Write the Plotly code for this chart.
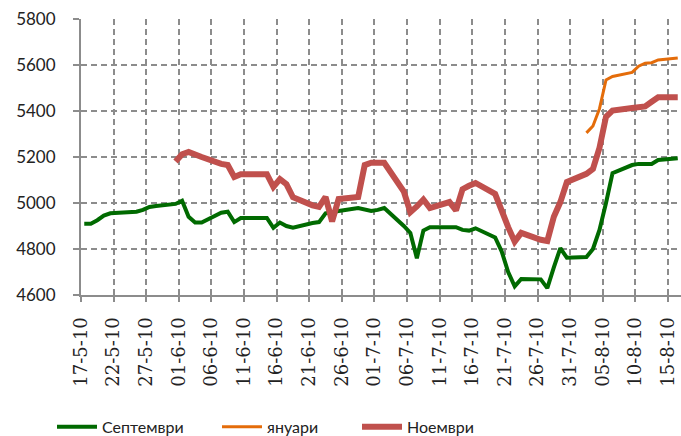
import plotly.graph_objects as go

sep_dates = ["2010-05-17","2010-05-18","2010-05-19","2010-05-20","2010-05-21",
             "2010-05-24","2010-05-25","2010-05-26","2010-05-27","2010-05-28",
             "2010-05-31","2010-06-01","2010-06-02","2010-06-03","2010-06-04",
             "2010-06-07","2010-06-08","2010-06-09","2010-06-10","2010-06-11",
             "2010-06-14","2010-06-15","2010-06-16","2010-06-17","2010-06-18",
             "2010-06-21","2010-06-22","2010-06-23","2010-06-24","2010-06-25",
             "2010-06-28","2010-06-29","2010-06-30","2010-07-01","2010-07-02",
             "2010-07-05","2010-07-06","2010-07-07","2010-07-08","2010-07-09",
             "2010-07-12","2010-07-13","2010-07-14","2010-07-15","2010-07-16",
             "2010-07-19","2010-07-20","2010-07-21","2010-07-22","2010-07-23",
             "2010-07-26","2010-07-27","2010-07-28","2010-07-29","2010-07-30",
             "2010-08-02","2010-08-03","2010-08-04","2010-08-05","2010-08-06",
             "2010-08-09","2010-08-10","2010-08-11","2010-08-12","2010-08-13",
             "2010-08-16"]
sep_values = [4910, 4910, 4925, 4945, 4955,
              4960, 4962, 4970, 4983, 4987,
              4996, 5010, 4940, 4915, 4915,
              4958, 4962, 4917, 4935, 4935,
              4935, 4892, 4915, 4900, 4893,
              4913, 4917, 4955, 4962, 4965,
              4978, 4972, 4965, 4970, 4978,
              4900, 4870, 4760, 4880, 4895,
              4895, 4895, 4883, 4880, 4890,
              4850, 4790, 4700, 4638, 4670,
              4668, 4630, 4720, 4804, 4762,
              4765, 4800, 4883, 5000, 5130,
              5165, 5170, 5170, 5170, 5187,
              5195]

nov_dates = sep_dates[10:]
nov_values = [5180, 5212, 5222, 5210, 5200,
              5170, 5165, 5113, 5125, 5125,
              5125, 5070, 5104, 5082, 5025,
              4990, 4983, 5026, 4920, 5017,
              5026, 5165, 5175, 5175, 5175,
              5050, 4960, 4985, 5015, 4978,
              5004, 4968, 5060, 5075, 5087,
              5040, 4960, 4895, 4832, 4870,
              4840, 4835, 4940, 5004, 5091,
              5127, 5148, 5240, 5375, 5402,
              5413, 5417, 5420, 5440, 5460,
              5460]

jan_dates = sep_dates[55:]
jan_values = [5305, 5335, 5410, 5535, 5550,
              5568, 5595, 5608, 5610, 5622,
              5630]

tick_labels = ["17-5-10","22-5-10","27-5-10","01-6-10","06-6-10","11-6-10",
               "16-6-10","21-6-10","26-6-10","01-7-10","06-7-10","11-7-10",
               "16-7-10","21-7-10","26-7-10","31-7-10","05-8-10","10-8-10",
               "15-8-10"]
tick_positions = ["2010-05-16 12:00","2010-05-21 12:00","2010-05-26 12:00",
                  "2010-05-31 12:00","2010-06-05 12:00","2010-06-10 12:00",
                  "2010-06-15 12:00","2010-06-20 12:00","2010-06-25 12:00",
                  "2010-06-30 12:00","2010-07-05 12:00","2010-07-10 12:00",
                  "2010-07-15 12:00","2010-07-20 12:00","2010-07-25 12:00",
                  "2010-07-30 12:00","2010-08-04 12:00","2010-08-09 12:00",
                  "2010-08-14 12:00"]

GREEN = "#006a00"
ORANGE = "#e46c0a"
RED = "#c0504d"

fig = go.Figure()
fig.add_trace(go.Scatter(x=sep_dates, y=sep_values, mode="lines", name="Септември",
                         line=dict(color=GREEN, width=4), legend="legend"))
fig.add_trace(go.Scatter(x=jan_dates, y=jan_values, mode="lines", name="януари",
                         line=dict(color=ORANGE, width=3), legend="legend2"))
fig.add_trace(go.Scatter(x=nov_dates, y=nov_values, mode="lines", name="Ноември",
                         line=dict(color=RED, width=6), legend="legend3"))

legend_common = dict(orientation="h", bgcolor="rgba(0,0,0,0)", borderwidth=0,
                     font=dict(family="Lato", size=16, color="#222"),
                     itemwidth=40, yanchor="middle", y=-0.478, xanchor="left")

fig.update_layout(
    width=681, height=436,
    margin=dict(l=81, r=0, t=19, b=141, autoexpand=False),
    plot_bgcolor="white", paper_bgcolor="white",
    showlegend=True,
    legend=dict(**legend_common, x=(52 - 81) / 600),
    legend2=dict(**legend_common, x=(217 - 81) / 600),
    legend3=dict(**legend_common, x=(357 - 81) / 600),
    xaxis=dict(
        type="date", automargin=False,
        range=["2010-05-16 12:00", "2010-08-16 12:00"],
        tickmode="array", tickvals=tick_positions, ticktext=tick_labels,
        tickangle=-90,
        tickfont=dict(family="DejaVu Serif", size=18, color="#222"),
        showgrid=True, gridcolor="#8c8c8c", gridwidth=1.5, griddash="6px,4px",
        showline=True, linecolor="#8c8c8c", linewidth=2,
        ticks="outside", ticklen=5, tickcolor="#8c8c8c", tickwidth=1.5,
        ticklabelstandoff=8,
        zeroline=False,
    ),
    yaxis=dict(
        automargin=False,
        range=[4600, 5800], tickvals=[4600, 4800, 5000, 5200, 5400, 5600, 5800],
        tickfont=dict(family="Lato", size=17, color="#222"),
        showgrid=True, gridcolor="#8c8c8c", gridwidth=1.5, griddash="6px,4px",
        showline=True, linecolor="#8c8c8c", linewidth=2,
        ticks="outside", ticklen=6, tickcolor="#8c8c8c", tickwidth=1.5,
        ticklabelstandoff=14,
        zeroline=False,
    ),
)

fig.write_html("out.html", config={"displayModeBar": False},
               post_script="document.body.style.margin='0px';document.body.style.overflow='hidden';")
